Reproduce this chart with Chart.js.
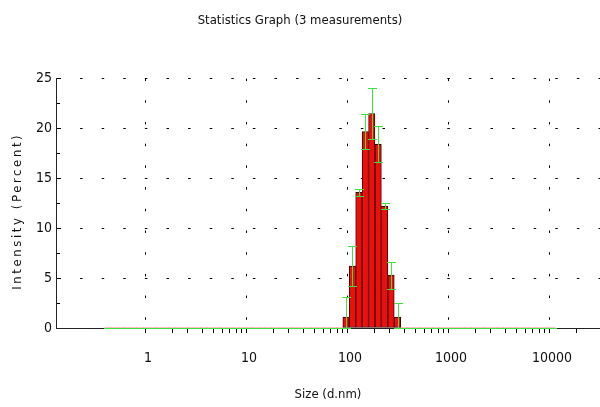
<!DOCTYPE html>
<html>
<head>
<meta charset="utf-8">
<script src="https://cdn.jsdelivr.net/npm/chart.js@4/dist/chart.umd.min.js"></script>
<style>
  html, body { margin: 0; padding: 0; background: #fff; }
  #wrap { width: 600px; height: 407px; }
</style>
</head>
<body>
<div id="wrap"><canvas id="chart" width="600" height="407"></canvas></div>
<script>
// size classes (d.nm), 70 log-spaced bins
const sizes = [
  0.4, 0.4632, 0.5365, 0.6213, 0.7195, 0.8332, 0.9649, 1.117, 1.294, 1.499,
  1.736, 2.01, 2.328, 2.696, 3.122, 3.615, 4.187, 4.849, 5.615, 6.503,
  7.531, 8.721, 10.1, 11.7, 13.54, 15.69, 18.17, 21.04, 24.36, 28.21,
  32.67, 37.84, 43.82, 50.75, 58.77, 68.06, 78.82, 91.28, 105.7, 122.4,
  141.8, 164.2, 190.1, 220.2, 255, 295.3, 342, 396.1, 458.7, 531.2,
  615.1, 712.4, 825, 955.4, 1106, 1281, 1484, 1718, 1990, 2305,
  2669, 3091, 3580, 4145, 4801, 5560, 6439, 7456, 8635, 10000
];

// mean intensity (%) per bin
const intensity = [
  0, 0, 0, 0, 0, 0, 0, 0, 0, 0,
  0, 0, 0, 0, 0, 0, 0, 0, 0, 0,
  0, 0, 0, 0, 0, 0, 0, 0, 0, 0,
  0, 0, 0, 0, 0, 0, 0, 1.1, 6.2, 13.6,
  19.7, 21.5, 18.4, 12.2, 5.3, 1.1, 0, 0, 0, 0,
  0, 0, 0, 0, 0, 0, 0, 0, 0, 0,
  0, 0, 0, 0, 0, 0, 0, 0, 0, 0
];

// standard deviation over the 3 measurements
const intensitySd = [
  0, 0, 0, 0, 0, 0, 0, 0, 0, 0,
  0, 0, 0, 0, 0, 0, 0, 0, 0, 0,
  0, 0, 0, 0, 0, 0, 0, 0, 0, 0,
  0, 0, 0, 0, 0, 0, 0, 2.0, 2.0, 0.35,
  1.8, 2.6, 1.8, 0.3, 1.35, 1.4, 0, 0, 0, 0,
  0, 0, 0, 0, 0, 0, 0, 0, 0, 0,
  0, 0, 0, 0, 0, 0, 0, 0, 0, 0
];

const decadeLabels = [1, 10, 100, 1000, 10000];

const FONT = "'Liberation Sans Narrow', 'DejaVu Sans Condensed', 'Liberation Sans', sans-serif";
Chart.defaults.font.family = FONT;
Chart.defaults.color = "#111";

const CLEAR = "rgba(0,0,0,0)";

function isDecade(v) {
  return decadeLabels.some(d => Math.abs(v - d) < d * 1e-6);
}

function isMinorTick(v) {
  if (v < 0.999 || v > 20001) return false;
  const p = Math.pow(10, Math.floor(Math.log10(v) + 1e-9));
  const m = v / p;
  return Math.abs(m - Math.round(m)) < 1e-6;
}

const errorBars = {
  id: "errorBars",
  afterDatasetsDraw(chart) {
    const ctx = chart.ctx;
    const x = chart.scales.x;
    const y = chart.scales.y;
    ctx.save();
    ctx.strokeStyle = "#3fe03f";
    ctx.lineWidth = 1;
    ctx.beginPath();
    sizes.forEach((s, i) => {
      const px = Math.round(x.getPixelForValue(s)) + 0.5;
      const top = Math.round(y.getPixelForValue(intensity[i] + intensitySd[i])) + 0.5;
      const bot = Math.round(y.getPixelForValue(Math.max(0, intensity[i] - intensitySd[i]))) + 0.5;
      ctx.moveTo(px, top);
      ctx.lineTo(px, bot);
      ctx.moveTo(px - 4.5, top);
      ctx.lineTo(px + 4.5, top);
      ctx.moveTo(px - 4.5, bot);
      ctx.lineTo(px + 4.5, bot);
    });
    ctx.stroke();
    ctx.restore();
  }
};

// spaced-out lettering for the y axis title
const spacedTitle = {
  id: "spacedTitle",
  beforeDraw(chart) {
    const s = chart.scales.y;
    if (!s || s.__spaced) return;
    const draw = s.drawTitle.bind(s);
    s.drawTitle = function () {
      const c = this.ctx;
      c.save();
      c.letterSpacing = "2.6px";
      c.translate(0, 8);
      draw();
      c.restore();
    };
    s.__spaced = true;
  }
};

new Chart(document.getElementById("chart"), {
  type: "bar",
  data: {
    datasets: [
      {
        data: sizes.map((s, i) => ({ x: s, y: intensity[i] })),
        backgroundColor: "#f20d0d",
        borderColor: "#3a0505",
        borderWidth: c => (c.raw && c.raw.y > 0 ? 1 : 0),
        borderSkipped: false,
        barThickness: 6.35,
        grouped: false
      }
    ]
  },
  options: {
    responsive: false,
    animation: false,
    devicePixelRatio: 1,
    layout: { padding: 0 },
    plugins: {
      legend: { display: false },
      tooltip: { enabled: false },
      title: {
        display: true,
        text: "Statistics Graph (3 measurements)",
        font: { size: 13, weight: "normal" },
        color: "#111",
        padding: { top: 13, bottom: 50 }
      }
    },
    scales: {
      x: {
        type: "logarithmic",
        min: 0.1228,
        max: 29860,
        afterFit(scale) { scale.height = 79; },
        border: { color: "#222", width: 1, dash: [2.5, 19.2] },
        grid: {
          color: c => (c.tick && isDecade(c.tick.value) ? "#000" : CLEAR),
          tickColor: c => (c.tick && isMinorTick(c.tick.value) ? "#000" : CLEAR),
          tickLength: 5,
          lineWidth: 1
        },
        ticks: {
          autoSkip: false,
          maxRotation: 0,
          padding: 0,
          color: "#111",
          font: { size: 14, lineHeight: 3.6 },
          callback: v => (isDecade(v) ? String(Math.round(v)) : "")
        },
        title: {
          display: true,
          text: "Size (d.nm)",
          color: "#111",
          font: { size: 13 },
          padding: { top: 0, bottom: 5 }
        }
      },
      y: {
        min: 0,
        max: 25,
        afterFit(scale) { scale.width = 56; },
        border: { color: "#222", width: 1, dash: [2.5, 19.1], dashOffset: -1.5 },
        grid: {
          color: c => (c.tick && c.tick.value > 0 && c.tick.value % 5 === 0 ? "#000" : CLEAR),
          tickColor: "#000",
          tickLength: -4
        },
        ticks: {
          stepSize: 2.5,
          padding: 8,
          color: "#111",
          font: { size: 14 },
          callback: v => (v % 5 === 0 ? String(v) : "")
        },
        title: {
          display: true,
          text: "Intensity (Percent)",
          color: "#111",
          font: { size: 13 },
          padding: { top: 10, bottom: 0 }
        }
      }
    }
  },
  plugins: [errorBars, spacedTitle]
});
</script>
</body>
</html>
